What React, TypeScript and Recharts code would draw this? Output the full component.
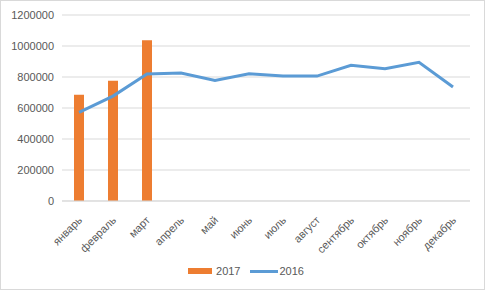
import { ComposedChart, Bar, Line, XAxis, YAxis, CartesianGrid, Legend } from 'recharts';

const months = ['январь', 'февраль', 'март', 'апрель', 'май', 'июнь', 'июль', 'август', 'сентябрь', 'октябрь', 'ноябрь', 'декабрь'];
const sales2017 = [685000, 776000, 1037000, null, null, null, null, null, null, null, null, null];
const sales2016 = [572000, 677000, 820000, 825000, 778000, 821000, 806000, 806000, 875000, 854000, 895000, 735000];
const yTicks = [0, 200000, 400000, 600000, 800000, 1000000, 1200000];

const data = months.map((m, i) => ({ month: m, y2017: sales2017[i], y2016: sales2016[i] }));

const TEXT = '#595959';
const FONT = '"Liberation Sans", Arial, sans-serif';

function MonthTick(props: any) {
  const { x, y, payload } = props;
  const tx = x + 1;
  const ty = y + 9;
  return (
    <text
      x={tx}
      y={ty}
      transform={`rotate(-45, ${tx}, ${ty})`}
      textAnchor="end"
      dominantBaseline="central"
      fontSize={11}
      fill={TEXT}
      fontFamily={FONT}
    >
      {payload.value}
    </text>
  );
}

function LegendBox() {
  return (
    <div style={{ height: 20, display: 'flex', justifyContent: 'center', alignItems: 'center', fontFamily: FONT, fontSize: 11, color: TEXT, paddingLeft: 22 }}>
      <span style={{ display: 'inline-block', width: 24, height: 6, background: '#ED7D31', marginRight: 4 }} />
      <span style={{ marginRight: 9 }}>2017</span>
      <span style={{ display: 'inline-block', width: 28, height: 3, background: '#5B9BD5', marginRight: 2 }} />
      <span>2016</span>
    </div>
  );
}

export default function App() {
  return (
    <div style={{ position: 'absolute', left: 0, top: 0, width: 487, height: 291, background: '#fff' }}>
      <div style={{ position: 'absolute', left: 0, top: 0, width: 485, height: 290, border: '1px solid #D9D9D9', boxSizing: 'border-box' }} />
      <div style={{ position: 'absolute', left: 0, top: 0 }}>
        <ComposedChart
          width={485}
          height={290}
          data={data}
          margin={{ top: 15, right: 15, left: 0, bottom: 9 }}
        >
          <CartesianGrid vertical={false} stroke="#D9D9D9" />
          <XAxis
            dataKey="month"
            height={60}
            interval={0}
            tickLine={false}
            axisLine={{ stroke: '#D9D9D9' }}
            tick={<MonthTick />}
          />
          <YAxis
            width={62}
            domain={[0, 1200000]}
            ticks={yTicks}
            axisLine={false}
            tickLine={false}
            tick={{ fill: TEXT, fontSize: 11, fontFamily: FONT }}
          />
          <Legend verticalAlign="bottom" content={() => <LegendBox />} />
          <Bar dataKey="y2017" name="2017" fill="#ED7D31" barSize={10} isAnimationActive={false} />
          <Line
            dataKey="y2016"
            name="2016"
            type="linear"
            stroke="#5B9BD5"
            strokeWidth={3}
            dot={false}
            isAnimationActive={false}
          />
        </ComposedChart>
      </div>
    </div>
  );
}
